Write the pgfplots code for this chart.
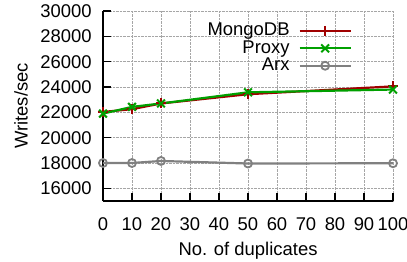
\documentclass[border=0pt]{standalone}
\usepackage{pgfplots}
\pgfplotsset{compat=1.18}
\usepackage{fontspec}
\setmainfont{Liberation Sans}
\definecolor{cmongo}{HTML}{A00000}
\definecolor{cproxy}{HTML}{00A000}
\definecolor{carx}{HTML}{808080}
\begin{document}
\fontsize{18.5}{21}\selectfont
\begin{tikzpicture}
\begin{axis}[
  scale only axis,
  width=290bp, height=190bp,
  xmin=0, xmax=100, ymin=15000, ymax=30000,
  xtick={0,10,...,100},
  ytick={16000,18000,...,30000},
  axis x line*=bottom, axis y line*=left,
  axis line style={line width=1.5bp, black},
  tick style={line width=1.2bp, black},
  major tick length=8bp,
  tick align=inside,
  grid=major,
  grid style={densely dotted, gray!70, line width=0.6bp},
  /pgf/number format/assume math mode=true,
  /pgf/number format/1000 sep={},
  scaled ticks=false,
  tick label style={font=\fontsize{18.5}{21}\selectfont},
  xticklabel style={yshift=-10bp},
  yticklabel style={xshift=-5bp},
  label style={font=\fontsize{18.5}{21}\selectfont},
  xlabel={No. of duplicates},
  ylabel={Writes/sec},
  xlabel style={yshift=1bp},
  legend style={draw=none, fill=none, at={(0.931,1)}, anchor=north east,
    xshift=-21bp, yshift=-10bp,
    font=\fontsize{18.5}{21}\selectfont, row sep=-2bp, column sep=7bp, inner sep=0pt},
  legend cell align=right,
  legend plot pos=right,
  legend image code/.code={%
    \draw[#1, mark repeat=2, mark phase=2] plot coordinates {(0cm,0cm) (0.9cm,0cm) (1.8cm,0cm)};},
]
\addplot[sharp plot, cmongo, line width=2.2bp, mark=+, mark size=5bp, mark options={line width=2bp}]
  coordinates {(0,22030) (10,22250) (20,22700) (50,23430) (100,24050)};
\addlegendentry{MongoDB}
\addplot[sharp plot, cproxy, line width=2.2bp, mark=x, mark size=5.5bp, mark options={line width=2bp}]
  coordinates {(0,21900) (10,22430) (20,22700) (50,23580) (100,23800)};
\addlegendentry{Proxy}
\addplot[sharp plot, carx, line width=2.2bp, mark=o, mark size=4bp, mark options={line width=1.8bp}]
  coordinates {(0,18000) (10,18000) (20,18160) (50,17960) (100,17980)};
\addlegendentry{Arx}
\end{axis}
\pgfresetboundingbox
\path (-103bp,-61bp) rectangle (304bp,201bp);
\end{tikzpicture}
\end{document}
